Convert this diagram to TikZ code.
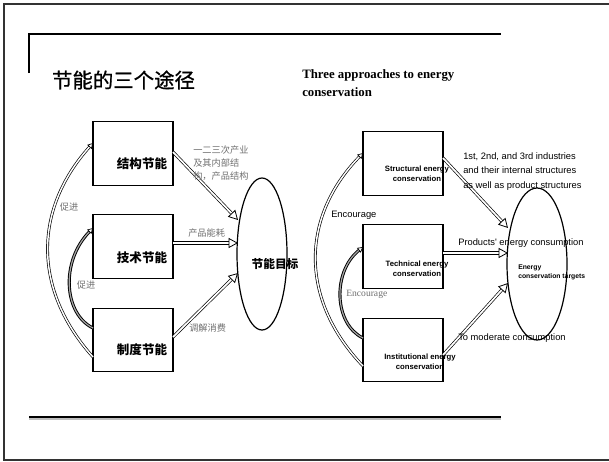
\documentclass[tikz,border=0pt]{standalone}
\usepackage{fontspec}
\setmainfont{Liberation Serif}
\newfontfamily\cjk{Noto Sans CJK SC}
\newfontfamily\cjktitle[FakeBold=0.8]{Noto Sans CJK SC}
\newfontfamily\arial{Liberation Sans}
\usetikzlibrary{arrows.meta,shapes.geometric}
\definecolor{labgray}{HTML}{707070}
\begin{document}
\begin{tikzpicture}[x=0.75pt,y=-0.75pt,
  boxnode/.style={draw, line width=0.9pt, minimum width=60pt, minimum height=47.5pt, inner sep=0pt},
  ellnode/.style={draw, ellipse, line width=0.9pt, inner sep=0pt},
  dblarrow/.style={draw, line width=0.5pt, double=white, double distance=1.3pt,
     -{Triangle[open, length=7pt, width=7.5pt, line width=0.6pt]}},
  curvearrow/.style={draw, line width=0.5pt, double=white, double distance=1.1pt,
     -{Triangle[open, length=4pt, width=4.5pt, line width=0.5pt]}},
  darkcurve/.style={draw, line width=0.7pt, double=gray!70, double distance=0.9pt,
     -{Triangle[open, length=4pt, width=4.5pt, line width=0.5pt]}},
  cnbox/.style={font=\cjk\bfseries\fontsize{9.4pt}{11pt}\selectfont, inner sep=0pt},
  cnlab/.style={font=\cjk\fontsize{6.9pt}{10pt}\selectfont, text=labgray, inner sep=0pt},
  enbox/.style={font=\arial\bfseries\fontsize{5.8pt}{7.5pt}\selectfont, align=center, inner sep=0pt},
  enlab/.style={font=\arial\fontsize{7pt}{11pt}\selectfont, inner sep=0pt, anchor=west},
  frameline/.style={line width=1.5pt, black!80}]
\useasboundingbox (0,0) rectangle (609,461);
\fill[white] (0,0) rectangle (609,461);
% outer frame
\draw[frameline] (612,4) -- (4,4) -- (4,460) -- (612,460);
% inner bracket and bottom rule
\draw[line width=2pt] (29,73) -- (29,34) -- (501,34);
\draw[line width=2.6pt, gray!50] (29,418) -- (501,418);
\draw[line width=2pt] (29,417) -- (501,417);
% titles
\node[font=\cjktitle\fontsize{15.3pt}{18pt}\selectfont, inner sep=0pt] (t1) at (123.5,80) {节能的三个途径};
\node[font=\bfseries\fontsize{9.6pt}{13.5pt}\selectfont, align=left, anchor=west, inner sep=0pt] (t2) at (302,83) {Three approaches to energy\\conservation};

% ---------- left diagram ----------
\node[boxnode] (b1) at (133,153.5) {};
\node[boxnode] (b2) at (133,246.5) {};
\node[boxnode] (b3) at (133,340) {};
\node[ellnode, minimum width=37.5pt, minimum height=114pt] (e1) at (262,254) {};
\node[cnbox] (b1t) at (142,164) {结构节能};
\node[cnbox] (b2t) at (142,258) {技术节能};
\node[cnbox] (b3t) at (142,350) {制度节能};
\node[font=\cjk\bfseries\fontsize{8.8pt}{10pt}\selectfont, inner sep=0pt] (e1t) at (275,264) {节能目标};

\coordinate (l1s) at (173,152);  \coordinate (l1e) at (238,220);
\coordinate (l2s) at (173,243);  \coordinate (l2e) at (238,243);
\coordinate (l3s) at (173,337);  \coordinate (l3e) at (238,273);
\path[dblarrow] (l1s) -- (l1e);
\path[dblarrow] (l2s) -- (l2e);
\path[dblarrow] (l3s) -- (l3e);

\coordinate (c1s) at (93,357); \coordinate (c1e) at (93,143);
\coordinate (c2s) at (93,328); \coordinate (c2e) at (93,228);
\path[curvearrow] (c1s) .. controls (33,290) and (33,210) .. (c1e);
\path[darkcurve] (c2s) .. controls (64,314) and (60,262) .. (c2e);

\node[cnlab, anchor=west, align=left, font=\cjk\fontsize{6.9pt}{10pt}\selectfont] (lab1) at (193,163) {一二三次产业\\及其内部结\\构，产品结构};
\node[cnlab, anchor=west] (lab2) at (188,233) {产品能耗};
\node[cnlab, anchor=west] (lab3) at (189,328) {调解消费};
\node[cnlab] (lab4) at (69,207) {促进};
\node[cnlab] (lab5) at (86,285) {促进};

% ---------- right diagram ----------
\node[boxnode] (r1) at (403,163.5) {};
\node[boxnode] (r2) at (403,256.5) {};
\node[boxnode] (r3) at (403,350) {};
\node[ellnode, minimum width=45pt, minimum height=114pt] (e2) at (537,264) {};

\coordinate (m1s) at (443,158);  \coordinate (m1e) at (508,228);
\coordinate (m2s) at (443,253);  \coordinate (m2e) at (508,253);
\coordinate (m3s) at (443,355);  \coordinate (m3e) at (508,283);
\path[dblarrow] (m1s) -- (m1e);
\path[dblarrow] (m2s) -- (m2e);
\path[dblarrow] (m3s) -- (m3e);

\coordinate (d1s) at (363,366); \coordinate (d1e) at (363,153);
\coordinate (d2s) at (363,338); \coordinate (d2e) at (363,247);
\path[curvearrow] (d1s) .. controls (300,300) and (300,218) .. (d1e);
\path[darkcurve] (d2s) .. controls (334,324) and (332,272) .. (d2e);

\node[enbox] (r1t) at (417,174) {Structural energy\\conservation};
\node[enbox] (r2t) at (417,268.5) {Technical energy\\conservation};
\node[enbox] (r3t) at (420,362) {Institutional energy\\conservation};
\node[font=\arial\bfseries\fontsize{5.1pt}{6.75pt}\selectfont, align=left, anchor=west, inner sep=0pt] (e2t) at (518,272.5) {Energy\\conservation targets};

\node[enlab, align=left] (q1) at (463,171.5) {1st, 2nd, and 3rd industries\\and their internal structures\\as well as product structures};
\node[enlab] (q2) at (458,243) {Products' energy consumption};
\node[enlab] (q3) at (458,338) {To moderate consumption};
\node[enlab] (q4) at (331,215) {Encourage};
\node[font=\fontsize{7.2pt}{9pt}\selectfont, text=labgray, anchor=west, inner sep=0pt] (q5) at (346,294) {Encourage};
\end{tikzpicture}
\end{document}
